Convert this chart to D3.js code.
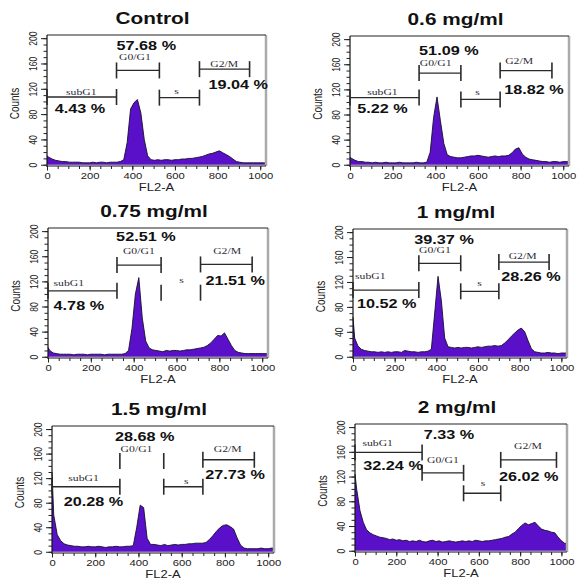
<!DOCTYPE html>
<html>
<head>
<meta charset="utf-8">
<script src="https://cdn.jsdelivr.net/npm/d3@7"></script>
<style>
  body { margin: 0; background: #fff; }
  text { font-family: Arial, "Liberation Sans", sans-serif; }
  .gate-label { font-family: "Times New Roman", "Liberation Serif", serif; font-size: 9px; fill: #2a2a35; }
</style>
</head>
<body>
<svg id="chart" width="577" height="580"></svg>
<script>
// histogram counts, 64 bins of 16 channels (0 - 1024)
const binWidth = 16;
const panelTitles = ["Control", "0.6 mg/ml", "0.75 mg/ml", "1 mg/ml", "1.5 mg/ml", "2 mg/ml"];
const zeroChannel = [14, 12, 15, 64, 130, 124];

const countsControl = [12,9,7,6,5,5,4,4,4,4, 3,3,3,4,3,4,4,3,4,4, 4,5,8,35,88,98,103,82,40,14,
  8,7,8,7,8,8,7,8,8,9, 9,10,10,11,12,13,15,17,18,20, 22,19,16,13,9,5,4,3,3,3, 3,3,3,3];
const counts06 = [10,7,5,5,4,4,3,4,3,3, 4,3,3,3,4,3,3,3,3,4, 3,3,4,20,75,108,70,34,16,13,
  12,11,11,12,13,14,14,15,14,13, 12,13,14,13,14,14,15,19,25,27, 17,12,9,8,7,6,5,5,4,5, 5,4,5,5];
const counts075 = [10,6,5,4,4,4,4,3,4,4, 4,3,4,4,4,4,3,4,4,4, 4,4,5,10,45,100,126,62,25,14,
  11,10,9,8,10,9,10,10,9,10, 11,11,12,13,14,15,18,22,28,34, 33,38,28,18,10,7,6,5,5,5, 5,5,5,5];
const counts1 = [30,17,12,10,9,8,8,7,8,7, 8,7,8,8,7,10,9,8,8,7, 8,8,9,12,70,129,90,30,16,15,
  14,15,14,15,15,14,15,16,15,16, 17,17,18,17,18,22,27,33,38,43, 46,40,26,13,8,7,6,6,7,6, 6,5,6,6];
const counts15 = [60,28,18,13,11,10,9,9,8,8, 9,8,8,9,8,7,8,8,9,8, 8,9,9,10,40,76,72,22,12,12,
  11,10,12,10,11,12,11,12,12,13, 13,14,14,14,15,20,26,33,39,43, 44,41,37,23,11,6,5,5,5,5, 6,5,5,6];
const counts2 = [100,65,46,34,29,26,24,22,21,20, 18,19,17,18,16,17,15,16,15,17, 15,14,16,17,15,16,14,15,16,15,
  14,15,16,15,16,15,17,16,15,16, 16,17,18,19,20,22,23,27,30,36, 41,45,42,44,46,40,35,33,32,30, 29,22,16,12];

// gates: [from, to, level, line drawn], label spots, and percentages (channel / count units)
const gateNames = ["subG1", "G0/G1", "s", "G2/M"];
const gatesControl = [[0,326,107,1],[326,527,149,1],[527,715,106,1],[715,950,151,1]];
const gates06 = [[0,324,107,1],[324,520,146,1],[520,704,104,1],[704,947,150,1]];
const gates075 = [[0,322,105,1],[322,528,146,1],[528,712,102,0],[712,953,147,1]];
const gates1 = [[0,316,107,1],[316,517,150,1],[517,700,105,1],[700,941,152,1]];
const gates15 = [[0,314,106,1],[314,517,148,0],[517,698,106,1],[698,936,150,1]];
const gates2 = [[0,325,159,1],[325,526,126,1],[526,706,93,1],[706,976,147,1]];

const labelsControl = [[161,110],[412,165],[608,111],[831,154]];
const labels06 = [[152,111],[402,158],[598,111],[793,160]];
const labels075 = [[97,112],[424,163],[623,117],[836,163]];
const labels1 = [[83,125],[393,166],[607,113],[814,157]];
const labels15 = [[146,115],[391,162],[621,111],[813,162]];
const labels2 = [[110,170],[426,142],[620,104],[838,164]];

const pctControl = [["4.43 %",36,82],["57.68 %",326,182],["19.04 %",757,119]];
const pct06 = [["5.22 %",34,82],["51.09 %",324,175],["18.82 %",723,112]];
const pct075 = [["4.78 %",26,74],["52.51 %",318,184],["21.51 %",735,115]];
const pct1 = [["10.52 %",19,79],["39.37 %",294,181],["28.26 %",711,121]];
const pct15 = [["20.28 %",54,75],["28.68 %",291,181],["27.73 %",709,118]];
const pct2 = [["32.24 %",40,130],["7.33 %",333,180],["26.02 %",697,113]];

const allCounts = [countsControl, counts06, counts075, counts1, counts15, counts2];
const allGates = [gatesControl, gates06, gates075, gates1, gates15, gates2];
const allLabels = [labelsControl, labels06, labels075, labels1, labels15, labels2];
const allPct = [pctControl, pct06, pct075, pct1, pct15, pct2];

// frame boxes [left, right, top, bottom]
const boxes = [[47,266,35,166],[350,569,36,166],[48,268,228,358],[353,567,229,358],[52,274,426,553],[355,567,424,552]];
const stretch = 1.3; // the figure is a bit wider than tall

const svg = d3.select("#chart");

function addText(g, x, y, str, anchor, k) {
    return g.append("text")
        .attr("transform", `translate(${x},${y}) scale(${k},1)`)
        .attr("text-anchor", anchor)
        .text(str);
}

function drawPanel(i) {
    const [left, right, top, bottom] = boxes[i];
    const g = svg.append("g");

    const x = d3.scaleLinear().domain([0, 1027]).range([left, right]);
    const y = d3.scaleLinear().domain([-2, 205]).range([bottom, top]);

    // histogram
    const pts = [[0, zeroChannel[i]]];
    allCounts[i].forEach((c, j) => pts.push([j * binWidth + binWidth / 2, c]));
    pts.push([1024, allCounts[i][allCounts[i].length - 1]]);

    const area = d3.area().x(d => x(d[0])).y0(y(0)).y1(d => y(d[1]));
    const line = d3.line().x(d => x(d[0])).y(d => y(d[1]));

    g.append("path").datum(pts).attr("d", area).attr("fill", "#5a0fc8");
    g.append("path").datum(pts).attr("d", line)
        .attr("fill", "none").attr("stroke", "#15102a").attr("stroke-width", 0.9);

    // frame
    g.append("line").attr("x1", right).attr("x2", right).attr("y1", top).attr("y2", bottom)
        .attr("stroke", "#aaa").attr("stroke-width", 2.5);
    g.append("line").attr("x1", left).attr("x2", right).attr("y1", top).attr("y2", top)
        .attr("stroke", "#222").attr("stroke-width", 1);
    g.append("line").attr("x1", left).attr("x2", left).attr("y1", top).attr("y2", bottom + 1)
        .attr("stroke", "#111").attr("stroke-width", 1.2);
    g.append("line").attr("x1", left).attr("x2", right).attr("y1", bottom).attr("y2", bottom)
        .attr("stroke", "#111").attr("stroke-width", 1.2);

    // y axis: minor + major ticks, rotated labels
    const yMinor = g.append("g").attr("transform", `translate(${left},0)`)
        .call(d3.axisLeft(y).tickValues(d3.range(0, 201, 10)).tickSize(3.5).tickFormat(""));
    const yMajor = g.append("g").attr("transform", `translate(${left},0)`)
        .call(d3.axisLeft(y).tickValues([0, 40, 80, 120, 160, 200]).tickSize(6));
    [yMinor, yMajor].forEach(a => {
        a.select(".domain").remove();
        a.selectAll("line").attr("stroke", "#222");
    });
    yMajor.selectAll("text")
        .attr("x", null).attr("dy", null)
        .attr("text-anchor", "middle")
        .attr("transform", `translate(-10,0) scale(${stretch},1) rotate(-90)`)
        .attr("font-size", 8.5).attr("fill", "#222");

    // x axis
    const xMinor = g.append("g").attr("transform", `translate(0,${bottom})`)
        .call(d3.axisBottom(x).tickValues(d3.range(0, 1001, 50)).tickSize(3).tickFormat(""));
    const xMajor = g.append("g").attr("transform", `translate(0,${bottom})`)
        .call(d3.axisBottom(x).tickValues(d3.range(0, 1001, 200)).tickFormat(d3.format("d"))
            .tickSize(4.5).tickPadding(2.5));
    [xMinor, xMajor].forEach(a => {
        a.select(".domain").remove();
        a.selectAll("line").attr("stroke", "#222");
    });
    xMajor.selectAll("text")
        .attr("transform", `scale(1.25,1)`)
        .attr("font-size", 9).attr("fill", "#222");

    // axis titles and panel title
    addText(g, (left + right) / 2, bottom + 25, "FL2-A", "middle", stretch)
        .attr("font-size", 10).attr("fill", "#222");
    g.append("text")
        .attr("transform", `translate(${left - 28},${(top + bottom) / 2 + 3}) scale(${stretch},1) rotate(-90)`)
        .attr("text-anchor", "middle")
        .attr("font-size", 10).attr("fill", "#222")
        .text("Counts");
    addText(g, (left + right) / 2 - 4, top - 11, panelTitles[i], "middle", stretch)
        .attr("font-size", 16).attr("font-weight", "bold").attr("fill", "#111");

    // gates
    allGates[i].forEach((gt, j) => {
        const [a, b, lv, drawn] = gt;
        const yy = y(lv);
        if (drawn) {
            g.append("line").attr("x1", x(a)).attr("x2", x(b)).attr("y1", yy).attr("y2", yy)
                .attr("stroke", "#2a2a2a").attr("stroke-width", 1.3);
        }
        [a, b].forEach(v => {
            g.append("line").attr("x1", x(v)).attr("x2", x(v)).attr("y1", yy - 8).attr("y2", yy + 8)
                .attr("stroke", "#2a2a2a").attr("stroke-width", 1.6);
        });
        const [lx, ly] = allLabels[i][j];
        addText(g, x(lx), y(ly), gateNames[j], "middle", stretch).attr("class", "gate-label");
    });

    // percentages
    allPct[i].forEach(p => {
        addText(g, x(p[1]), y(p[2]), p[0], "start", stretch)
            .attr("font-size", 12.5).attr("font-weight", "bold").attr("fill", "#111");
    });
}

d3.range(panelTitles.length).forEach(drawPanel);
</script>
</body>
</html>
